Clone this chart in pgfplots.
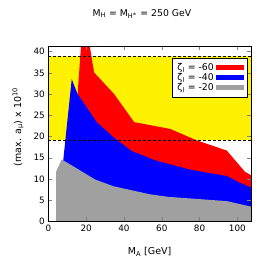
\documentclass[border=0pt]{standalone}
\usepackage{fontspec}
\setmainfont{DejaVu Sans}
\usepackage{pgfplots}
\pgfplotsset{compat=1.18}
\definecolor{mygray}{HTML}{A0A0A0}
\begin{document}
\begin{tikzpicture}
\useasboundingbox (0,0) rectangle (270pt,270pt);
\begin{axis}[
  scale only axis,
  width=202.7pt, height=175pt,
  at={(48.3pt,48.5pt)}, anchor=south west,
  xmin=0, xmax=107.2, ymin=0, ymax=41.2,
  xtick={0,20,40,60,80,100},
  ytick={0,5,10,15,20,25,30,35,40},
  tick align=inside,
  major tick length=4pt,
  /pgf/number format/assume math mode=true,
  tick label style={font=\fontsize{8.8}{10}\selectfont},
  label style={font=\fontsize{9.5}{11}\selectfont},
  xlabel={M\textsubscript{A} [GeV]},
  xlabel style={at={(axis description cs:0.5,-0.175)}, anchor=center},
  ylabel={(max. a\textsubscript{μ}) x 10\textsuperscript{10}},
  ylabel style={at={(axis description cs:-0.15,0.54)}, anchor=center},
  title={M\textsubscript{H} = M\textsubscript{H\textsuperscript{±}} = 250 GeV},
  title style={font=\fontsize{9.3}{11}\selectfont, at={(axis description cs:0.462,1.151)}, anchor=center},
  axis on top,
  legend plot pos=right,
  legend cell align=left,
  legend style={at={(axis description cs:0.98,0.934)}, anchor=north east,
    font=\fontsize{9.3}{10}\selectfont, draw=black, fill=white, row sep=-2.5pt, inner sep=3pt},
  legend image code/.code={\fill[#1] (0pt,-2.5pt) rectangle (28pt,2.5pt);},
]
% yellow band
\addplot[fill=yellow, draw=none, forget plot] coordinates {(0,19.1) (107.2,19.1) (107.2,38.9) (0,38.9)} -- cycle;
% red
\addplot[fill=red, draw=none] coordinates {
 (15.5,0) (15.5,30) (17.5,42.5) (21.5,42.5) (24.2,35.1) (34.8,30) (45.4,23.4)
 (64.4,21.8) (78.5,19.1) (94.4,16.7) (104,11.7) (107.2,10.9) (107.2,0)} -- cycle;
\addlegendentry{ζ\textsubscript{l} = -60}
% blue
\addplot[fill=blue, draw=none] coordinates {
 (7.9,0) (7.9,14.4) (12.4,33.5) (15.5,30) (25.6,23.4) (35.3,19.5) (44.1,16.6)
 (56.5,14.4) (75,12.2) (94.4,10.7) (101.4,9.1) (107.2,8.0) (107.2,0)} -- cycle;
\addlegendentry{ζ\textsubscript{l} = -40}
% gray
\addplot[fill=mygray, draw=none] coordinates {
 (4.1,0) (4.1,11.7) (7.1,14.6) (13.2,13.0) (24.7,9.9) (34.4,8.3) (53.8,6.4)
 (63.5,5.8) (94.4,4.8) (107.2,3.5) (107.2,0)} -- cycle;
\addlegendentry{ζ\textsubscript{l} = -20}
% dashed lines
\addplot[black, dash pattern=on 3pt off 2pt, forget plot] coordinates {(0,38.9) (107.2,38.9)};
\addplot[black, dash pattern=on 3pt off 2pt, forget plot] coordinates {(0,19.1) (107.2,19.1)};
\end{axis}
\end{tikzpicture}
\end{document}
